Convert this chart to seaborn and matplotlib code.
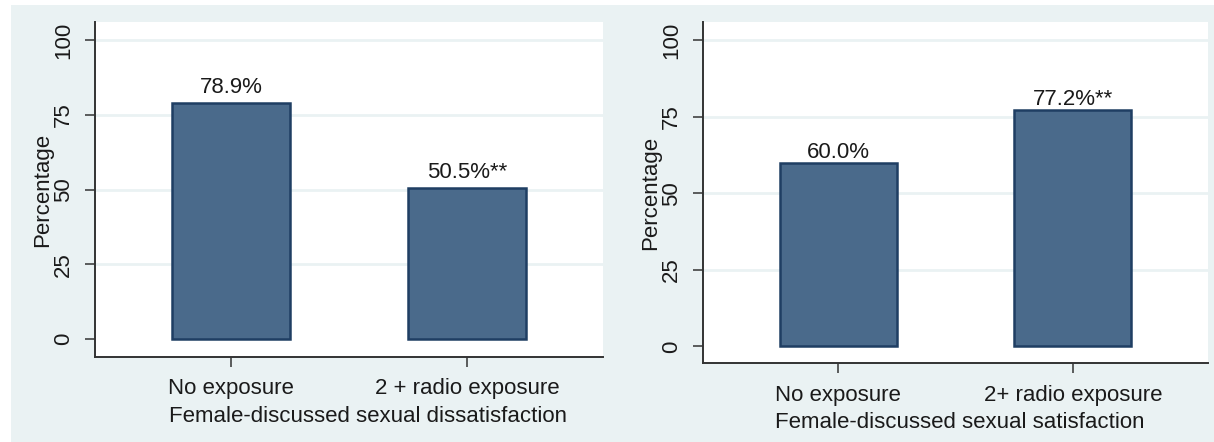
import matplotlib
matplotlib.use("Agg")
import matplotlib.pyplot as plt
import matplotlib.patches as mpatches
import seaborn as sns
import pandas as pd

# Panel data
left_categories = ["No exposure", "2 + radio exposure"]
left_values = [78.9, 50.5]
left_marks = ["", "**"]
left_xlabel = "Female-discussed sexual dissatisfaction"

right_categories = ["No exposure", "2+ radio exposure"]
right_values = [60.0, 77.2]
right_marks = ["", "**"]
right_xlabel = "Female-discussed sexual satisfaction"

y_ticks = [0, 25, 50, 75, 100]
y_label = "Percentage"

sns.set_theme(style="white")
plt.rcParams["font.family"] = ["Liberation Sans", "DejaVu Sans"]

BG = "#EAF2F3"
GRID = "#EAF2F3"
BAR = "#4A6A8B"
BAR_EDGE = "#1F3E63"
TEXT = "#1a1a1a"
FS = 16

W, H = 1214, 442
fig = plt.figure(figsize=(W / 100, H / 100), dpi=100, facecolor="white")
fig.patches.append(mpatches.Rectangle((11 / W, 0), 1 - 11 / W, 1 - 5 / H,
                                      transform=fig.transFigure, facecolor=BG,
                                      edgecolor="none", zorder=-10))


def px_axes(x0, x1, y0, y1):
    return fig.add_axes([x0 / W, 1 - y1 / H, (x1 - x0) / W, (y1 - y0) / H])


def draw_panel(ax, cats, vals, marks, xlabel, ylim, label_gap, xpad,
               xlabelpad, xlabel_x):
    df = pd.DataFrame({"category": cats, "value": vals})
    sns.barplot(data=df, x="category", y="value", ax=ax, color=BAR,
                saturation=1, width=0.5, edgecolor=BAR_EDGE, linewidth=1.8,
                zorder=3)
    ax.set_facecolor("white")
    ax.set_xlim(-0.576, 1.576)
    ax.set_ylim(*ylim)
    ax.set_yticks(y_ticks)
    ax.set_yticklabels([str(t) for t in y_ticks], rotation=90, va="center")
    for t in y_ticks[1:]:
        ax.axhline(t, color=GRID, lw=2, zorder=1)
    for sp in ["top", "right"]:
        ax.spines[sp].set_visible(False)
    for sp in ["left", "bottom"]:
        ax.spines[sp].set_color("#333333")
        ax.spines[sp].set_linewidth(1.4)
    ax.tick_params(axis="both", which="major", length=7, width=1.1,
                   color="#333333", labelsize=FS, labelcolor=TEXT,
                   left=True, bottom=True)
    ax.tick_params(axis="y", pad=8)
    ax.tick_params(axis="x", pad=xpad)
    ax.set_xlabel(xlabel, fontsize=FS, color=TEXT, labelpad=xlabelpad)
    ax.xaxis.label.set_x(xlabel_x)
    ax.set_ylabel(y_label, fontsize=FS, color=TEXT, labelpad=0)
    for i, (v, m) in enumerate(zip(vals, marks)):
        ax.annotate(f"{v:.1f}%{m}", xy=(i, v), xytext=(0, label_gap),
                    textcoords="offset points", ha="center", va="bottom",
                    fontsize=FS, color=TEXT, zorder=4)


ax1 = px_axes(95, 603, 22, 357)
draw_panel(ax1, left_categories, left_values, left_marks, left_xlabel,
           (-6.1, 106.1), 3.5, 8, 5, 0.537)

ax2 = px_axes(703, 1208, 22, 363)
draw_panel(ax2, right_categories, right_values, right_marks, right_xlabel,
           (-5.4, 105.9), 0, 9, 4.5, 0.509)

fig.savefig("out.png", dpi=100, facecolor=fig.get_facecolor())
